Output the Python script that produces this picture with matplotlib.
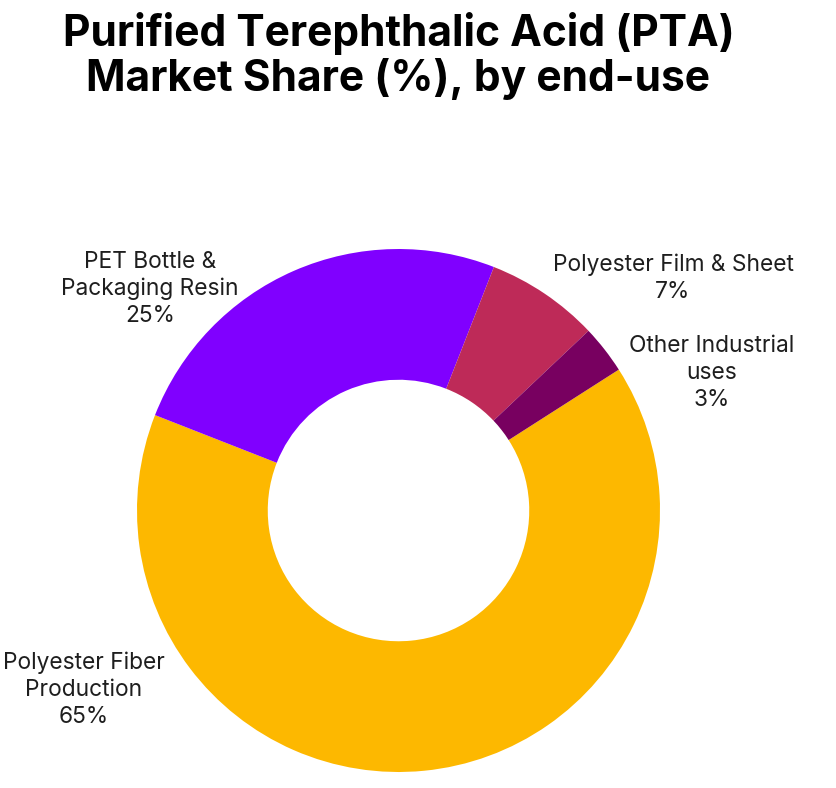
import matplotlib
matplotlib.use("Agg")
import matplotlib.pyplot as plt

# Data
categories = ["Polyester Fiber\nProduction", "PET Bottle &\nPackaging Resin",
              "Polyester Film & Sheet", "Other Industrial\nuses"]
shares = [65, 25, 7, 3]
colors = ["#FDB800", "#8000FF", "#BE2A58", "#780060"]
title = "Purified Terephthalic Acid (PTA)\nMarket Share (%), by end-use"

W, H = 837, 788
fig = plt.figure(figsize=(W / 100, H / 100), dpi=100)
ax = fig.add_axes([0, 0, 1, 1])

cx, cy, R = 398.5, H - 510.5, 261.5
ax.pie(shares, colors=colors, startangle=32.6, counterclock=False,
       center=(cx, cy), radius=R,
       wedgeprops=dict(width=R * 0.5, linewidth=0))
ax.set_xlim(0, W)
ax.set_ylim(0, H)
ax.set_aspect("equal")
ax.axis("off")

fig.text(0.5 * (62 + 735) / W, 1 - 56 / H, title, ha="center", va="center",
         fontsize=30.6, fontweight="bold", family=["Inter", "DejaVu Sans"],
         linespacing=1.08, color="#000000")

label_pos = [(84, 690), (150, 289), (673, 278), (712, 373)]
for cat, val, (lx, ly) in zip(categories, shares, label_pos):
    ax.text(lx, H - ly, f"{cat}\n{val}%", ha="center", va="center",
            fontsize=16.4, family=["Inter", "DejaVu Sans"], color="#1E1E1E",
            linespacing=1.3)

fig.savefig("out.png", dpi=100)
